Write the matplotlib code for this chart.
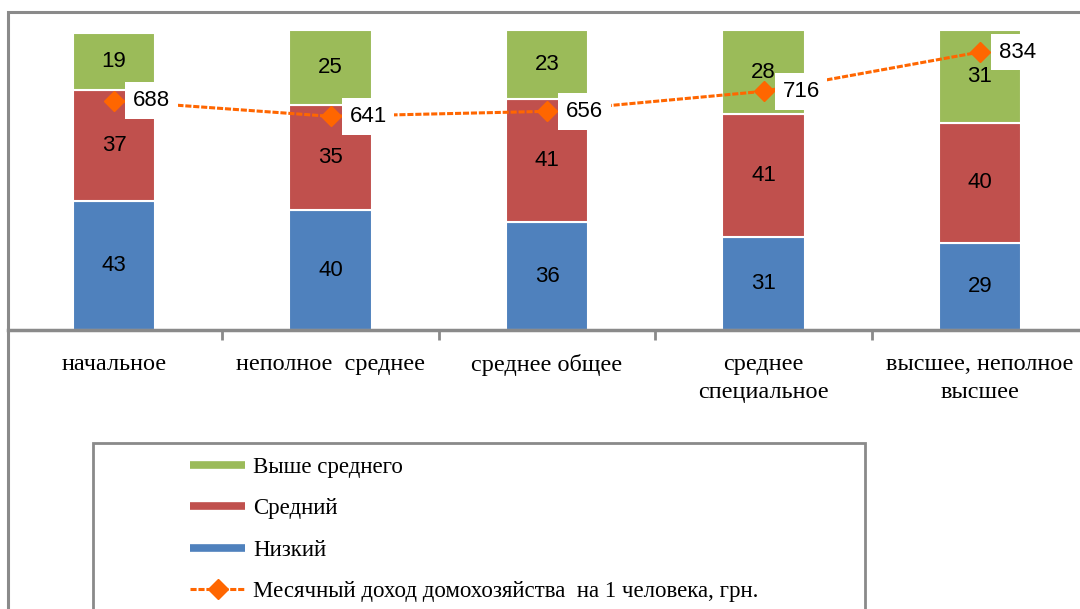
import numpy as np
import matplotlib.pyplot as plt
from matplotlib.lines import Line2D
from matplotlib.patches import Rectangle

# data
categories = ['начальное', 'неполное  среднее', 'среднее общее',
              'среднее\nспециальное', 'высшее, неполное\nвысшее']
low = [43, 40, 36, 31, 29]
middle = [37, 35, 41, 41, 40]
above = [19, 25, 23, 28, 31]
income = [688, 641, 656, 716, 834]

series_names = ['Низкий', 'Средний', 'Выше среднего']
line_name = 'Месячный доход домохозяйства  на 1 человека, грн.'

c_blue = '#4F81BD'
c_red = '#C0504D'
c_green = '#9BBB59'
c_orange = '#FF6600'
c_gray = '#8A8A8A'

W, H = 1080, 609
fig = plt.figure(figsize=(W / 100, H / 100), dpi=100)
ax = fig.add_axes([8 / W, 1 - 330 / H, 1 - 8 / W, 300 / H])

x = np.arange(len(categories))
bottom = np.zeros(len(x))
for vals, col in [(low, c_blue), (middle, c_red), (above, c_green)]:
    bars = ax.bar(x, vals, width=0.38, bottom=bottom, color=col,
                  edgecolor='white', linewidth=1.5)
    ax.bar_label(bars, labels=[str(v) for v in vals], label_type='center',
                 fontsize=16, family='Liberation Sans')
    bottom += np.array(vals)

ax.set_xlim((8 - 114) / 216.5, (1080 - 114) / 216.5)
ax.set_ylim(0, 100)
ax.set_yticks([])
for s in ['top', 'right', 'left']:
    ax.spines[s].set_visible(False)
ax.spines['bottom'].set_color(c_gray)
ax.spines['bottom'].set_linewidth(2.5)
ax.set_xticks(x)
ax.set_xticklabels(categories, fontsize=17.5, family='Liberation Serif',
                   linespacing=1.46)
ax.tick_params(axis='x', which='major', length=0, pad=17)
ax.set_xticks(x[:-1] + 0.5, minor=True)
ax.tick_params(axis='x', which='minor', length=7, width=2, color=c_gray)

# income line on secondary axis
ax2 = ax.twinx()
ax2.set_ylim(0, 900)
ax2.set_yticks([])
for s in ax2.spines.values():
    s.set_visible(False)
ax2.plot(x, income, color=c_orange, lw=2.2, linestyle=(0, (2, 0.6)),
         marker='D', markersize=10, zorder=2)
for xi, v in zip(x, income):
    ax2.annotate(str(v), (xi, v), xytext=(27, 0), textcoords='offset points',
                 ha='center', va='center', fontsize=16, family='Liberation Sans',
                 bbox=dict(boxstyle='square,pad=0.35', fc='white', ec='none'),
                 zorder=4)

# chart frame
fig.add_artist(Rectangle((8 / W, -0.2), 1.2, 1.2 - 12 / H, transform=fig.transFigure,
                         fill=False, ec=c_gray, lw=2.2))

# legend with its own frame
fig.add_artist(Rectangle((93 / W, -0.2), (865 - 93) / W, 0.2 + 1 - 443 / H,
                         transform=fig.transFigure, fill=False, ec=c_gray, lw=2))
handles = [Line2D([], [], color=c_green, lw=5.5, solid_capstyle='butt'),
           Line2D([], [], color=c_red, lw=5.5, solid_capstyle='butt'),
           Line2D([], [], color=c_blue, lw=5.5, solid_capstyle='butt'),
           Line2D([], [], color=c_orange, lw=2.2, linestyle=(0, (2, 0.6)),
                  marker='D', markersize=10)]
names = [series_names[2], series_names[1], series_names[0], line_name]
fig.legend(handles, names, loc='upper left', bbox_to_anchor=(190 / W, 1 - 457 / H),
           frameon=False, prop={'family': 'Liberation Serif', 'size': 16.5},
           handlelength=2.4, handletextpad=0.35, labelspacing=0.89,
           borderpad=0, borderaxespad=0)

fig.savefig('out.png', dpi=100)
